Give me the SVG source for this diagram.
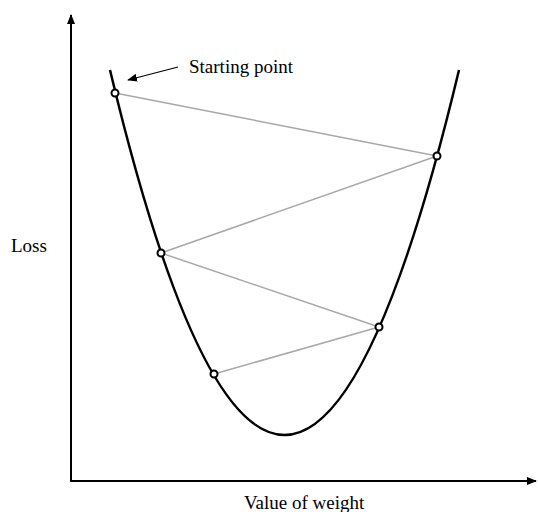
<svg xmlns="http://www.w3.org/2000/svg" width="538" height="512" viewBox="0 0 538 512">
<style>
.axis{stroke:#000;stroke-width:2;fill:none}
.curve{stroke:#000;stroke-width:2.5;fill:none}
.step{stroke:#a8a8a8;stroke-width:1.5;fill:none}
.pt{fill:#fff;stroke:#000;stroke-width:2}
.lbl{font-family:"Liberation Serif","Times New Roman",serif;font-size:19px;fill:#000}
</style>
<defs>
<marker id="ah" viewBox="0 0 10 10" refX="9" refY="5" markerWidth="10" markerHeight="10" markerUnits="userSpaceOnUse" orient="auto">
<path d="M0,1 L10,5 L0,9 Z" fill="#000"/>
</marker>
</defs>
<rect width="538" height="512" fill="#fff"/>
<g id="axes">
<line class="axis" x1="71" y1="481" x2="71" y2="15" marker-end="url(#ah)"/>
<line class="axis" x1="70" y1="481" x2="536" y2="481" marker-end="url(#ah)"/>
</g>
<g id="curve">
<path class="curve" d="M110,70 Q284.5,800 459,70"/>
</g>
<g id="connectors">
<line class="step" x1="115" y1="93" x2="437" y2="156"/>
<line class="step" x1="437" y1="156" x2="161" y2="253"/>
<line class="step" x1="161" y1="253" x2="379" y2="327"/>
<line class="step" x1="379" y1="327" x2="214" y2="374"/>
<line x1="178" y1="67" x2="128" y2="80" stroke="#000" stroke-width="1.2" marker-end="url(#ah)"/>
</g>
<g id="p1"><circle class="pt" cx="115" cy="93" r="3.5"/></g>
<g id="p2"><circle class="pt" cx="437" cy="156" r="3.5"/></g>
<g id="p3"><circle class="pt" cx="161" cy="253" r="3.5"/></g>
<g id="p4"><circle class="pt" cx="379" cy="327" r="3.5"/></g>
<g id="p5"><circle class="pt" cx="214" cy="374" r="3.5"/></g>
<g id="labels">
<text class="lbl" x="189" y="73">Starting point</text>
<text class="lbl" x="11" y="252">Loss</text>
<text class="lbl" x="244" y="509">Value of weight</text>
</g>
</svg>
